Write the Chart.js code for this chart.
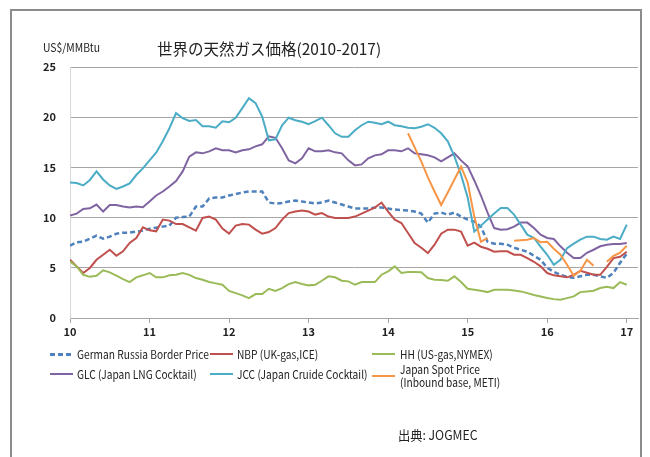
<!DOCTYPE html>
<html><head><meta charset="utf-8">
<script src="https://cdn.jsdelivr.net/npm/chart.js@4.4.1/dist/chart.umd.min.js"></script>
<style>
html,body{margin:0;padding:0;background:#fff;}
#wrap{position:relative;width:650px;height:457px;overflow:hidden;background:#fff;}
#c{position:absolute;left:0;top:0;}
.frame{position:absolute;left:10px;top:9px;width:628px;height:470px;border:2px solid #8c8c8c;}
.t{position:absolute;white-space:nowrap;color:#222;font-family:'Noto Sans CJK JP','Noto Sans',sans-serif;transform-origin:0 0;}
.lg{font-size:11.5px;line-height:16px;transform:scaleX(0.885);}
.sw{position:absolute;height:2px;width:23px;}
</style></head><body>
<div id="wrap">
<canvas id="c" width="650" height="457"></canvas>
<div class="frame"></div>
<div class="t" style="left:157px;top:37px;font-size:15.5px;line-height:22px;">世界の天然ガス価格(2010-2017)</div>
<div class="t" style="left:43px;top:39px;font-size:11.5px;line-height:16px;transform:scaleX(0.9);">US$/MMBtu</div>

<div class="sw" style="left:50px;top:353px;height:2.5px;background:repeating-linear-gradient(90deg,#4F81BD 0 5px,transparent 5px 8px);"></div>
<div class="t lg" style="left:77px;top:346px;">German Russia Border Price</div>
<div class="sw" style="left:210px;top:353px;background:#C0504D;"></div>
<div class="t lg" style="left:237px;top:346px;">NBP (UK-gas,ICE)</div>
<div class="sw" style="left:372px;top:353px;background:#9BBB59;"></div>
<div class="t lg" style="left:400px;top:346px;">HH (US-gas,NYMEX)</div>

<div class="sw" style="left:50px;top:373px;background:#8064A2;"></div>
<div class="t lg" style="left:77px;top:366px;">GLC (Japan LNG Cocktail)</div>
<div class="sw" style="left:210px;top:373px;background:#4BACC6;"></div>
<div class="t lg" style="left:237px;top:366px;">JCC (Japan Cruide Cocktail)</div>
<div class="sw" style="left:372px;top:375px;background:#F79646;"></div>
<div class="t lg" style="left:400px;top:363px;line-height:13px;">Japan Spot Price<br>(Inbound base, METI)</div>

<div class="t" style="left:398px;top:426px;font-size:13px;line-height:18px;transform:scaleX(0.94);">出典: JOGMEC</div>
</div>
<script>
const yearLabels = ['10','11','12','13','14','15','16','17'];

const grb = [7.2,7.55,7.6,7.9,8.2,7.9,8.1,8.4,8.5,8.5,
  8.6,8.7,8.9,9.0,9.1,9.2,10.0,10.05,10.1,11.1,
  11.1,11.9,12.0,12.0,12.2,12.35,12.5,12.6,12.6,12.6,
  11.5,11.4,11.45,11.6,11.7,11.6,11.5,11.4,11.5,11.7,
  11.5,11.3,11.1,10.9,10.9,10.9,11.0,11.0,10.9,10.8,
  10.75,10.7,10.6,10.4,9.5,10.4,10.5,10.3,10.5,10.1,
  9.8,9.6,9.1,7.6,7.4,7.4,7.3,7.0,6.8,6.6,
  6.2,5.8,5.0,4.6,4.3,4.1,4.0,4.15,4.3,4.3,
  4.15,4.0,4.5,5.5,6.4];

const nbp = [5.8,5.14,4.48,4.98,5.8,6.3,6.8,6.2,6.64,7.47,
  7.97,9.03,8.73,8.63,9.8,9.7,9.36,9.36,9.03,8.7,
  9.96,10.1,9.8,8.9,8.4,9.2,9.36,9.3,8.8,8.4,
  8.56,8.96,9.8,10.45,10.6,10.7,10.6,10.3,10.45,10.1,
  9.96,9.96,9.96,10.1,10.4,10.7,11.0,11.5,10.6,9.8,
  9.46,8.46,7.47,7.0,6.47,7.3,8.4,8.8,8.8,8.6,
  7.2,7.5,7.1,6.9,6.6,6.64,6.64,6.3,6.3,5.97,
  5.6,5.14,4.48,4.25,4.15,4.05,4.3,4.7,4.5,4.3,
  4.3,5.1,5.97,6.1,6.6];

const hh = [5.64,5.14,4.3,4.1,4.2,4.75,4.55,4.22,3.88,3.58,
  4.05,4.25,4.48,4.05,4.05,4.25,4.3,4.48,4.3,3.98,
  3.81,3.58,3.45,3.31,2.7,2.48,2.25,1.98,2.38,2.38,
  2.91,2.7,2.98,3.38,3.58,3.38,3.25,3.31,3.71,4.15,
  4.05,3.71,3.65,3.31,3.58,3.58,3.58,4.31,4.65,5.14,
  4.48,4.58,4.57,4.55,3.98,3.81,3.78,3.71,4.15,3.58,
  2.91,2.81,2.71,2.58,2.81,2.81,2.81,2.75,2.65,2.48,
  2.3,2.15,2.0,1.88,1.82,1.98,2.15,2.58,2.65,2.71,
  2.98,3.1,2.98,3.58,3.31];

const glc = [10.2,10.4,10.86,10.93,11.3,10.6,11.25,11.25,11.1,11.0,
  11.1,11.04,11.6,12.2,12.6,13.1,13.65,14.6,16.07,16.5,
  16.4,16.6,16.9,16.7,16.7,16.5,16.7,16.8,17.1,17.3,
  18.1,17.95,16.9,15.7,15.4,15.9,16.9,16.6,16.6,16.7,
  16.5,16.4,15.7,15.2,15.3,15.9,16.2,16.3,16.7,16.7,
  16.6,16.9,16.4,16.3,16.2,16.0,15.6,16.0,16.4,15.7,
  15.1,13.7,12.2,10.5,8.96,8.8,8.85,9.1,9.5,9.5,
  8.96,8.3,7.97,7.87,7.14,6.5,5.97,5.97,6.5,6.8,
  7.14,7.3,7.37,7.37,7.47];

const jcc = [13.5,13.45,13.2,13.75,14.6,13.8,13.2,12.85,13.1,13.4,
  14.24,14.9,15.7,16.46,17.6,18.9,20.4,19.9,19.62,19.72,
  19.1,19.1,18.95,19.6,19.5,19.95,20.9,21.9,21.4,20.05,
  17.7,17.8,19.2,19.95,19.7,19.55,19.3,19.6,19.95,19.2,
  18.4,18.05,18.05,18.7,19.2,19.55,19.45,19.3,19.55,19.2,
  19.1,18.95,18.9,19.05,19.3,18.95,18.4,17.6,16.1,14.25,
  12.0,8.6,9.2,9.8,10.4,10.95,10.95,10.3,9.3,8.3,
  7.97,7.1,6.3,5.3,5.8,6.96,7.4,7.8,8.1,8.1,
  7.87,7.8,8.1,7.87,9.3];

const jsp = [null,null,null,null,null,null,null,null,null,null,
  null,null,null,null,null,null,null,null,null,null,
  null,null,null,null,null,null,null,null,null,null,
  null,null,null,null,null,null,null,null,null,null,
  null,null,null,null,null,null,null,null,null,null,
  null,18.4,17.0,15.6,14.0,12.6,11.25,12.5,13.8,15.07,
  13.5,10.1,7.6,7.95,null,null,null,7.7,7.75,7.8,
  7.97,7.55,7.6,6.9,6.3,5.3,4.2,4.7,5.8,5.2,
  null,5.6,6.2,6.5,7.2];

const toXY = arr => arr.map((v, i) => ({x: i, y: v}));
const tickFont = {family: "'Noto Sans CJK JP','Noto Sans',sans-serif", size: 11, weight: 'bold'};

new Chart(document.getElementById('c'), {
  type: 'line',
  data: {
    datasets: [
      {label: 'Japan Spot Price (Inbound base, METI)', data: toXY(jsp), borderColor: '#F79646', spanGaps: false},
      {label: 'JCC (Japan Cruide Cocktail)', data: toXY(jcc), borderColor: '#4BACC6'},
      {label: 'GLC (Japan LNG Cocktail)', data: toXY(glc), borderColor: '#8064A2'},
      {label: 'HH (US-gas,NYMEX)', data: toXY(hh), borderColor: '#9BBB59'},
      {label: 'NBP (UK-gas,ICE)', data: toXY(nbp), borderColor: '#C0504D'},
      {label: 'German Russia Border Price', data: toXY(grb), borderColor: '#4F81BD', borderDash: [5, 3], borderWidth: 2.5}
    ]
  },
  options: {
    responsive: false,
    animation: false,
    layout: {padding: {left: 40, top: 67, right: 12, bottom: 114}},
    plugins: {legend: {display: false}, tooltip: {enabled: false}, title: {display: false}},
    elements: {point: {radius: 0}, line: {tension: 0, borderWidth: 2, fill: false}},
    scales: {
      x: {
        type: 'linear', min: 0, max: 85.7,
        afterBuildTicks: s => { s.ticks = yearLabels.map((l, i) => ({value: i * 12})); },
        ticks: {callback: v => yearLabels[Math.round(v / 12)], font: tickFont, color: '#222', padding: 2, maxRotation: 0, autoSkip: false},
        grid: {drawOnChartArea: false, drawTicks: true, tickLength: 5, color: '#a6a6a6'},
        border: {display: true, color: '#a6a6a6', width: 1},
        afterFit: s => { s.height = 25; }
      },
      y: {
        min: 0, max: 25,
        ticks: {stepSize: 5, padding: 14, font: tickFont, color: '#222'},
        grid: {color: '#a6a6a6', drawTicks: false},
        border: {display: true, color: '#d9d9d9'},
        afterFit: s => { s.width = 30; }
      }
    }
  }
});
</script>
</body></html>
